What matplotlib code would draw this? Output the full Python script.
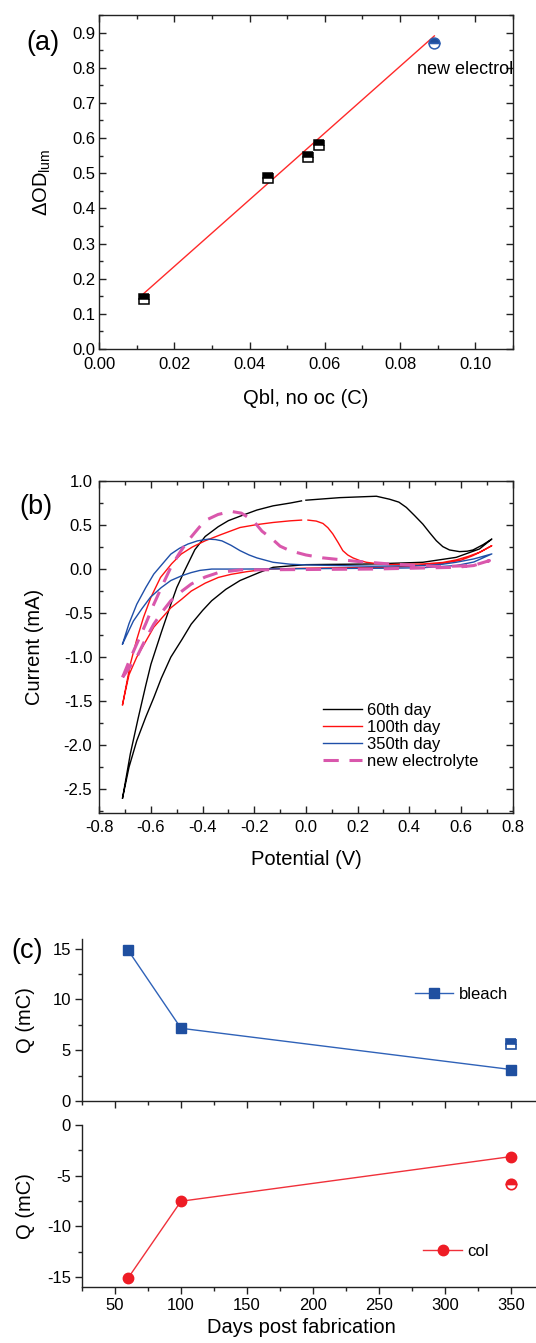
import numpy as np
import matplotlib
matplotlib.use("Agg")
import matplotlib.pyplot as plt
from matplotlib.ticker import MultipleLocator

plt.rcParams['font.family'] = ['Liberation Sans', 'DejaVu Sans']
plt.rcParams['mathtext.fontset'] = 'custom'
plt.rcParams['mathtext.rm'] = 'Liberation Sans'
plt.rcParams['mathtext.it'] = 'Liberation Sans:italic'
plt.rcParams['axes.linewidth'] = 1.0
plt.rcParams['axes.unicode_minus'] = False

# ---- panel (a): dOD vs bleach charge ----
qbl = [0.0120, 0.0450, 0.0554, 0.0584]
dod = [0.143, 0.485, 0.545, 0.580]
qbl_new = [0.0891]
dod_new = [0.8715]
fit_x = [0.0118, 0.0891]
fit_y = [0.157, 0.8905]

# ---- panel (b): cyclic voltammograms (forward + return sweep) ----
cv60_x = [-0.71, -0.68, -0.65, -0.62, -0.60, -0.56, -0.523, -0.50, -0.47, -0.43, -0.39,
          -0.34, -0.30, -0.255, -0.19, -0.127, -0.06, -0.017, np.nan,
          0.0, 0.131, 0.273, 0.324, 0.36, 0.389, 0.42, 0.453, 0.48, 0.505, 0.53, 0.556,
          0.595, 0.625, 0.647, 0.686, 0.72,
          0.672, 0.582, 0.453, 0.257, 0.0, -0.127, -0.178, -0.255, -0.31, -0.365, -0.40,
          -0.444, -0.48, -0.523, -0.56, -0.589, -0.62, -0.655, -0.685, -0.71]
cv60_y = [-2.60, -2.10, -1.70, -1.32, -1.08, -0.72, -0.40, -0.21, -0.02, 0.22, 0.37,
          0.48, 0.55, 0.60, 0.67, 0.718, 0.75, 0.774, np.nan,
          0.782, 0.811, 0.827, 0.793, 0.76, 0.70, 0.61, 0.51, 0.41, 0.322, 0.255, 0.217,
          0.198, 0.203, 0.217, 0.277, 0.341,
          0.228, 0.133, 0.077, 0.058, 0.05, 0.02, -0.036, -0.13, -0.23, -0.36, -0.47,
          -0.625, -0.80, -1.0, -1.24, -1.46, -1.68, -1.95, -2.25, -2.60]

cv100_x = [-0.71, -0.68, -0.655, -0.629, -0.60, -0.563, -0.52, -0.483, -0.44, -0.391,
           -0.33, -0.255, -0.19, -0.127, -0.06, -0.017, np.nan,
           0.008, 0.04, 0.066, 0.085, 0.104, 0.125, 0.143, 0.162, 0.182, 0.21, 0.234,
           0.28, 0.324, 0.453, 0.53, 0.582, 0.63, 0.672, 0.72,
           0.68, 0.647, 0.60, 0.518, 0.42, 0.324, 0.0, -0.15, -0.23, -0.29, -0.339,
           -0.39, -0.444, -0.48, -0.523, -0.589, -0.62, -0.655, -0.685, -0.70, -0.71]
cv100_y = [-1.54, -1.08, -0.80, -0.55, -0.32, -0.095, 0.06, 0.17, 0.25, 0.32,
           0.39, 0.472, 0.505, 0.529, 0.548, 0.556, np.nan,
           0.556, 0.545, 0.518, 0.47, 0.40, 0.30, 0.209, 0.16, 0.127, 0.095, 0.077,
           0.06, 0.051, 0.058, 0.075, 0.104, 0.145, 0.19, 0.266,
           0.20, 0.153, 0.10, 0.058, 0.035, 0.02, 0.01, 0.0, -0.03, -0.06, -0.095,
           -0.16, -0.25, -0.34, -0.44, -0.66, -0.82, -1.0, -1.2, -1.40, -1.54]

cv350_x = [-0.71, -0.685, -0.655, -0.62, -0.589, -0.555, -0.523, -0.49, -0.457, -0.42,
           -0.378, -0.35, -0.325, -0.29, -0.255, -0.22, -0.19, -0.127, -0.06, 0.0,
           0.257, 0.453, 0.53, 0.582, 0.65, 0.72,
           0.65, 0.582, 0.45, 0.324, -0.255, -0.365, -0.41, -0.444, -0.48, -0.523,
           -0.56, -0.602, -0.635, -0.668, -0.71]
cv350_y = [-0.85, -0.62, -0.40, -0.21, -0.057, 0.06, 0.17, 0.235, 0.284, 0.32,
           0.34, 0.335, 0.32, 0.27, 0.209, 0.16, 0.127, 0.077, 0.055, 0.047,
           0.032, 0.04, 0.055, 0.077, 0.115, 0.172,
           0.08, 0.04, 0.015, 0.01, 0.0, 0.0, -0.015, -0.04, -0.075, -0.13,
           -0.21, -0.32, -0.45, -0.59, -0.85]

cvnew_x = [-0.71, -0.685, -0.655, -0.62, -0.589, -0.555, -0.523, -0.49, -0.457, -0.42,
           -0.391, -0.34, -0.29, -0.25, -0.204, -0.17, -0.13, -0.10, -0.062, 0.0,
           0.066, 0.195, 0.324, 0.518, 0.647, 0.711,
           0.65, 0.582, 0.257, -0.255, -0.339, -0.39, -0.444, -0.48, -0.523, -0.555,
           -0.589, -0.62, -0.655, -0.71]
cvnew_y = [-1.23, -1.05, -0.85, -0.62, -0.40, -0.18, 0.02, 0.18, 0.32, 0.45,
           0.55, 0.62, 0.655, 0.635, 0.55, 0.43, 0.34, 0.26, 0.209, 0.16,
           0.127, 0.088, 0.058, 0.028, 0.04, 0.096,
           0.04, 0.02, 0.0, -0.01, -0.04, -0.09, -0.17, -0.25, -0.36, -0.48,
           -0.625, -0.79, -1.0, -1.23]

cv_labels = ['60th day', '100th day', '350th day', 'new electrolyte']

# ---- panel (c): charge vs age ----
days = [60, 100, 350]
q_bleach = [14.83, 7.16, 3.10]
q_col = [-15.1, -7.53, -3.12]
days_new = [350]
q_bleach_new = [5.63]
q_col_new = [-5.84]

W, H = 536, 1343
fig = plt.figure(figsize=(W / 100, H / 100), dpi=100)


def px_axes(left, top, right, bottom):
    return fig.add_axes([left / W, 1 - bottom / H, (right - left) / W, (bottom - top) / H])


SPINE = '#222222'
TICK_FS = 12
LABEL_FS = 14.5

# ================= (a) =================
ax = px_axes(99, 15, 513, 349)
ax.plot(fit_x, fit_y, color='#ff2a2a', lw=1.0, zorder=2)
ax.plot(qbl, dod, ls='none', marker='s', ms=7.4, fillstyle='top',
        markerfacecolor='black', markerfacecoloralt='white',
        markeredgecolor='black', markeredgewidth=1.1, zorder=3)
ax.plot(qbl_new, dod_new, ls='none', marker='o', ms=7.8, fillstyle='top',
        markerfacecolor='#1f4e9c', markerfacecoloralt='white',
        markeredgecolor='#2a5cb0', markeredgewidth=1.1, zorder=3)
ax.text(0.0845, 0.7936, 'new electrolyte', fontsize=13, va='center', ha='left', clip_on=True)
ax.set_xlim(0, 0.11)
ax.set_ylim(0, 0.95)
ax.xaxis.set_major_locator(MultipleLocator(0.02))
ax.xaxis.set_minor_locator(MultipleLocator(0.01))
ax.yaxis.set_major_locator(MultipleLocator(0.1))
ax.yaxis.set_minor_locator(MultipleLocator(0.05))
ax.xaxis.set_major_formatter(plt.FuncFormatter(lambda v, p: f'{v:.2f}'))
ax.yaxis.set_major_formatter(plt.FuncFormatter(lambda v, p: f'{v:.1f}'))
ax.set_xlabel('Qbl, no oc (C)', fontsize=LABEL_FS)
ax.set_ylabel('ΔOD$_\\mathregular{lum}$', fontsize=LABEL_FS)
ax.xaxis.set_label_coords(0.5, -0.12)
ax.yaxis.set_label_coords(-0.112, 0.5)
ax.tick_params(which='both', direction='in', top=True, right=True, labelsize=TICK_FS,
               color=SPINE)
ax.tick_params(axis='x', pad=6)
ax.tick_params(axis='y', pad=2.5)
ax.tick_params(which='major', length=5, width=1)
ax.tick_params(which='minor', length=3, width=1)
for s in ax.spines.values():
    s.set_color(SPINE)
fig.text(42.5 / W, 1 - 43 / H, '(a)', fontsize=19.5, ha='center', va='center')

# ================= (b) =================
bx = px_axes(99.3, 481, 512.5, 813)
bx.plot(cv60_x, cv60_y, color='black', lw=1.0, label=cv_labels[0])
bx.plot(cv100_x, cv100_y, color='#ff1010', lw=1.0, label=cv_labels[1])
bx.plot(cv350_x, cv350_y, color='#1f4fa8', lw=1.0, label=cv_labels[2])
bx.plot(cvnew_x, cvnew_y, color='#d957ac', lw=2.2, ls=(0, (5, 3.5)), label=cv_labels[3])
bx.set_xlim(-0.8, 0.8)
bx.set_ylim(-2.77, 1.0)
bx.xaxis.set_major_locator(MultipleLocator(0.2))
bx.xaxis.set_minor_locator(MultipleLocator(0.1))
bx.yaxis.set_major_locator(MultipleLocator(0.5))
bx.yaxis.set_minor_locator(MultipleLocator(0.25))
bx.xaxis.set_major_formatter(plt.FuncFormatter(lambda v, p: f'{v:.1f}'))
bx.yaxis.set_major_formatter(plt.FuncFormatter(lambda v, p: f'{v:.1f}'))
bx.set_xlabel('Potential (V)', fontsize=LABEL_FS)
bx.set_ylabel('Current (mA)', fontsize=LABEL_FS)
bx.xaxis.set_label_coords(0.5, -0.112)
bx.yaxis.set_label_coords(-0.135, 0.5)
bx.tick_params(which='both', direction='in', top=True, right=True, labelsize=TICK_FS,
               color=SPINE, pad=5)
bx.tick_params(which='major', length=5, width=1)
bx.tick_params(which='minor', length=3, width=1)
for s in bx.spines.values():
    s.set_color(SPINE)
bx.legend(loc='center left', bbox_to_anchor=(0.541, 0.231), frameon=False, fontsize=12,
          borderpad=0, borderaxespad=0, handlelength=2.35, handletextpad=0.3,
          labelspacing=0.12)
fig.text(36 / W, 1 - 507 / H, '(b)', fontsize=19.5, ha='center', va='center')

# ================= (c) =================
BLUE = '#1f4fa0'
RED = '#ee1c25'
c1 = px_axes(82, 938.5, 544, 1101)
c2 = px_axes(82, 1125, 544, 1287)

c1.plot(days, q_bleach, color='#2f62b8', lw=1.0, marker='s', ms=7,
        markerfacecolor=BLUE, markeredgecolor=BLUE, label='bleach', clip_on=False)
c1.plot(days_new, q_bleach_new, ls='none', marker='s', ms=7, fillstyle='top',
        markerfacecolor=BLUE, markerfacecoloralt='white', markeredgecolor=BLUE,
        markeredgewidth=1.2)
c2.plot(days, q_col, color='#f0303a', lw=1.0, marker='o', ms=7.5,
        markerfacecolor=RED, markeredgecolor=RED, label='col', clip_on=False)
c2.plot(days_new, q_col_new, ls='none', marker='o', ms=7.5, fillstyle='top',
        markerfacecolor=RED, markerfacecoloralt='white', markeredgecolor=RED,
        markeredgewidth=1.2)

for a in (c1, c2):
    a.set_xlim(25, 375)
    a.spines['top'].set_visible(False)
    a.spines['right'].set_visible(False)
    for s in ('left', 'bottom'):
        a.spines[s].set_color(SPINE)
    a.xaxis.set_major_locator(MultipleLocator(50))
    a.xaxis.set_minor_locator(MultipleLocator(25))
    a.yaxis.set_major_locator(MultipleLocator(5))
    a.yaxis.set_minor_locator(MultipleLocator(2.5))
    a.tick_params(which='both', direction='out', labelsize=TICK_FS, color=SPINE, pad=3)
    a.tick_params(which='major', length=5, width=1)
    a.tick_params(which='minor', length=3, width=1)
    a.set_ylabel('Q (mC)', fontsize=LABEL_FS)
    a.yaxis.set_label_coords(-0.102, 0.5)

c1.set_ylim(0, 16)
c1.tick_params(axis='x', labelbottom=False)
c2.set_ylim(-16, 0)
c2.set_xlabel('Days post fabrication', fontsize=LABEL_FS)
c2.xaxis.set_label_coords(0.475, -0.19)

c1.legend(loc='center left', bbox_to_anchor=(0.721, 0.657), frameon=False, fontsize=12,
          borderpad=0, borderaxespad=0, handlelength=2.3, handletextpad=0.3)
c2.legend(loc='center left', bbox_to_anchor=(0.739, 0.218), frameon=False, fontsize=12,
          borderpad=0, borderaxespad=0, handlelength=2.3, handletextpad=0.3)
fig.text(27 / W, 1 - 951.5 / H, '(c)', fontsize=19.5, ha='center', va='center')

fig.savefig('out.png', dpi=100)
